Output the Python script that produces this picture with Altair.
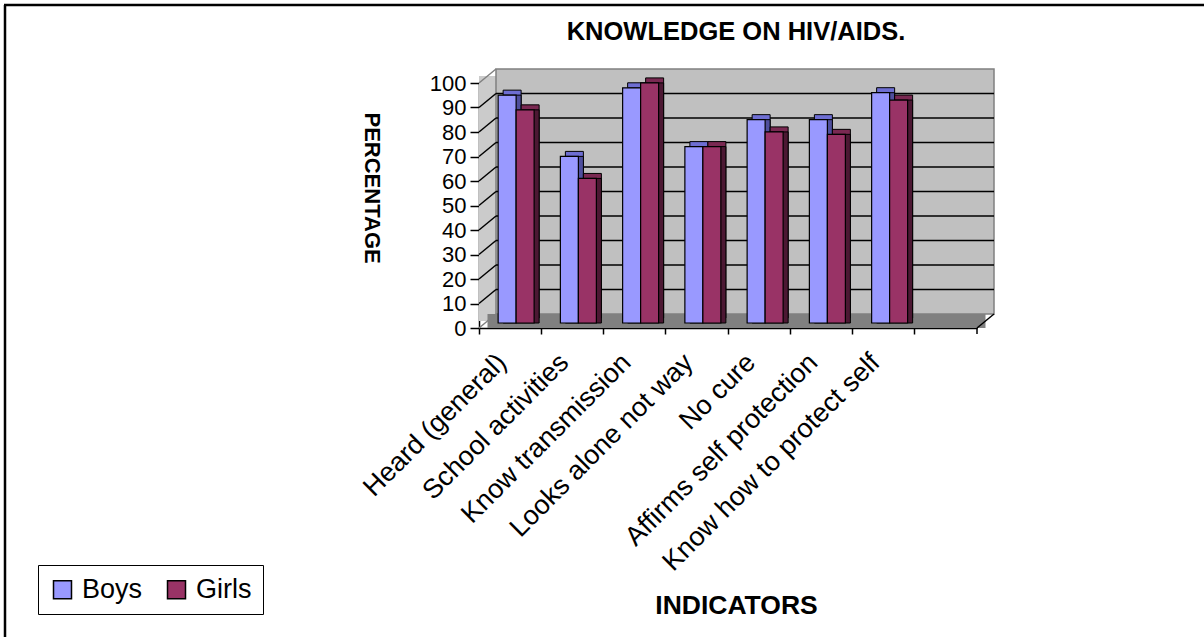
import altair as alt
import pandas as pd

# ---------------- data ----------------
categories = ["Heard (general)", "School activities", "Know transmission",
              "Looks alone not way", "No cure", "Affirms self protection",
              "Know how to protect self"]
blank_slot = " "
series = ["Boys", "Girls"]
boys = [93, 68, 96, 72, 83, 83, 94]
girls = [87, 59, 98, 72, 78, 77, 91]
front_colors = ["#9999FF", "#993366"]
top_colors = ["#6E6ED2", "#7A2952"]
side_colors = ["#4F4F9E", "#4C1833"]
y_ticks = [0, 10, 20, 30, 40, 50, 60, 70, 80, 90, 100]
title_text = "KNOWLEDGE ON HIV/AIDS."
x_title = "INDICATORS"
y_title = "PERCENTAGE"

FONT = "Liberation Sans"
W, H = 498, 245          # front plane of the plot
DX, DY = 17, 14          # depth of walls (px)
BD = 5                   # depth of bars (px)
BAR_LIFT = 5             # bars stand a little behind the front edge
BAR_W = 18
SERIES_SHIFT = {"Boys": -3, "Girls": 15}

x_domain = categories + [blank_slot]
df = pd.DataFrame({
    "category": categories * 2,
    "series": ["Boys"] * len(categories) + ["Girls"] * len(categories),
    "value": boys + girls,
})

wall_df = pd.DataFrame({"top": [max(y_ticks)], "bottom": [min(y_ticks)]})
inner_df = pd.DataFrame({"v": y_ticks[1:-1]})
edge_df = pd.DataFrame({"v": [min(y_ticks), max(y_ticks)]})
zero_df = pd.DataFrame({"v": [min(y_ticks)]})
one_df = pd.DataFrame({"t": [title_text]})

yscale = alt.Scale(domain=[min(y_ticks), max(y_ticks)], nice=False)
yaxis = alt.Axis(values=y_ticks, tickSize=9, tickWidth=1.5, domainWidth=1.5,
                 labelFontSize=22, labelPadding=4, grid=False,
                 title=y_title, titleAngle=90, titleX=-108, titleY=29,
                 titleAlign="left", titleBaseline="middle",
                 titleFontSize=22, titleFontWeight="bold")


def Y(field):
    return alt.Y(field, scale=yscale, axis=yaxis)


# ---------------- walls ----------------
side_wall = alt.Chart(wall_df).mark_rect(fill="#CBCBCB", yOffset=-DY / 2, y2Offset=-DY / 2).encode(
    x=alt.value(0), x2=alt.value(DX), y=Y("top:Q"), y2="bottom:Q")

back_wall = alt.Chart(wall_df).mark_rect(
    fill="#C0C0C0", stroke="#808080", strokeWidth=1.5,
    xOffset=DX, x2Offset=DX, yOffset=-DY, y2Offset=-DY).encode(
    x=alt.value(0), x2=alt.value("width"), y=Y("top:Q"), y2="bottom:Q")

floor = alt.Chart(zero_df).mark_rect(
    fill="#808080", xOffset=DX / 2, x2Offset=DX / 2, yOffset=-DY, y2Offset=0).encode(
    x=alt.value(0), x2=alt.value("width"), y=Y("v:Q"), y2="v:Q")

back_grid = alt.Chart(inner_df).mark_rule(
    color="black", strokeWidth=1.5, xOffset=DX, x2Offset=DX, yOffset=-DY).encode(
    x=alt.value(0), x2=alt.value("width"), y=Y("v:Q"))

side_grid = alt.Chart(inner_df).mark_rule(color="black", strokeWidth=1.5, y2Offset=-DY).encode(
    x=alt.value(0), x2=alt.value(DX), y=Y("v:Q"), y2="v:Q")

side_edges = alt.Chart(edge_df).mark_rule(color="#808080", strokeWidth=1.5, y2Offset=-DY).encode(
    x=alt.value(0), x2=alt.value(DX), y=Y("v:Q"), y2="v:Q")

right_edge = alt.Chart(zero_df).mark_rule(color="black", strokeWidth=1.5, x2Offset=DX, y2Offset=-DY).encode(
    x=alt.value("width"), x2=alt.value("width"), y=Y("v:Q"), y2="v:Q")

right_tick = alt.Chart(zero_df).mark_rule(color="black", strokeWidth=1.5, y2Offset=6).encode(
    x=alt.value("width"), y=alt.value("height"), y2=alt.value("height"))

# ---------------- bars ----------------
x_enc = alt.X("category:N", sort=x_domain,
              scale=alt.Scale(domain=x_domain, paddingInner=0, paddingOuter=0),
              axis=alt.Axis(bandPosition=0, labelOffset=-8, labelAngle=-45,
                            labelAlign="right", labelBaseline="middle",
                            labelFontSize=27, labelLimit=0, labelOverlap=False,
                            labelPadding=24, tickSize=6, tickWidth=1.5, domainWidth=1.5,
                            title=x_title, titleX=257, titleY=277,
                            titleAlign="center", titleBaseline="middle",
                            titleFontSize=26.5, titleFontWeight="bold"))

color_enc = alt.Color("series:N", scale=alt.Scale(domain=series, range=front_colors),
                      legend=alt.Legend(orient="none", legendX=-441, legendY=482,
                                        direction="horizontal", title=None,
                                        symbolType="square", symbolSize=324,
                                        symbolStrokeColor="black", symbolStrokeWidth=1.5,
                                        labelFontSize=27, labelOffset=6,
                                        columnPadding=20, padding=11,
                                        strokeColor="black"))

bar_layers = []
for s, tc, sc in zip(series, top_colors, side_colors):
    base = alt.Chart(df).transform_filter(alt.datum.series == s)
    shift = SERIES_SHIFT[s]
    top = base.mark_bar(width=BAR_W, fill=tc, stroke="black", strokeWidth=1,
                        xOffset=shift + BD,
                        yOffset=-BAR_LIFT - BD, y2Offset=-BAR_LIFT - BD).encode(
        x=x_enc, y=Y("value:Q"), y2=alt.datum(0))
    side = base.mark_bar(width=BAR_W, fill=sc, stroke="black", strokeWidth=1,
                         xOffset=shift + BD,
                         yOffset=-BAR_LIFT, y2Offset=-BAR_LIFT).encode(
        x=x_enc, y=Y("value:Q"), y2=alt.datum(0))
    front = base.mark_bar(width=BAR_W, stroke="black", strokeWidth=1.2,
                          xOffset=shift,
                          yOffset=-BAR_LIFT, y2Offset=-BAR_LIFT).encode(
        x=x_enc, y=Y("value:Q"), y2=alt.datum(0), color=color_enc)
    bar_layers += [top, side, front]

# ---------------- title & frame ----------------
title_mark = alt.Chart(one_df).mark_text(fontSize=25.5, fontWeight="bold", font=FONT,
                                         align="center", baseline="alphabetic").encode(
    text="t:N", x=alt.value(257), y=alt.value(-43))

frame_left = alt.Chart(one_df).mark_rule(color="black", strokeWidth=2.5).encode(
    x=alt.value(-474), y=alt.value(-78), y2=alt.value(570))
frame_top = alt.Chart(one_df).mark_rule(color="black", strokeWidth=2.5).encode(
    x=alt.value(-475), x2=alt.value(740), y=alt.value(-78))

chart = alt.layer(
    side_wall, back_wall, floor, back_grid, side_grid, side_edges, right_edge,
    *bar_layers, right_tick, title_mark, frame_left, frame_top
).properties(
    width=W, height=H,
    autosize=alt.AutoSizeParams(type="none"),
    padding={"left": 479, "top": 83, "right": 227, "bottom": 309},
    background="white",
).configure_view(stroke=None).configure_axis(
    labelFont=FONT, titleFont=FONT, labelColor="black", titleColor="black",
    domainColor="black", tickColor="black"
).configure_legend(labelFont=FONT, labelColor="black")

chart.save("out.html", embed_options={"renderer": "svg", "actions": False})
